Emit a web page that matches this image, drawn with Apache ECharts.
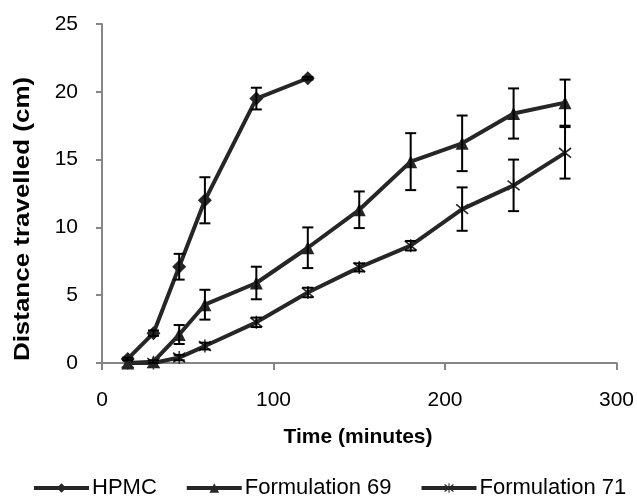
<!DOCTYPE html>
<html>
<head>
<meta charset="utf-8">
<script src="https://cdn.jsdelivr.net/npm/echarts@6/dist/echarts.min.js"></script>
<style>
  html, body { margin: 0; padding: 0; background: #fff; }
  #chart { width: 637px; height: 497px; }
</style>
</head>
<body>
<div id="chart"></div>
<script>
// Sampling times (minutes)
const times = [15, 30, 45, 60, 90, 120, 150, 180, 210, 240, 270];

// Mean distance travelled (cm) and standard deviation per formulation
const hpmcMean = [0.3, 2.2, 7.1, 12.0, 19.5, 21.0];
const hpmcErr  = [0.1, 0.2, 0.95, 1.7, 0.8, 0.1];

const f69Mean = [0, 0.1, 2.1, 4.3, 5.9, 8.5, 11.3, 14.85, 16.2, 18.4, 19.2];
const f69Err  = [0, 0.1, 0.7, 1.1, 1.2, 1.5, 1.35, 2.1, 2.05, 1.85, 1.7];

const f71Mean = [0, 0, 0.4, 1.25, 3.0, 5.2, 7.05, 8.65, 11.35, 13.1, 15.5];
const f71Err  = [0, 0, 0.2, 0.25, 0.35, 0.35, 0.3, 0.35, 1.6, 1.9, 1.9];

const seriesNames = ['HPMC', 'Formulation 69', 'Formulation 71'];

// Axis settings
const xMin = 0, xMax = 300, xStep = 100;
const yMin = 0, yMax = 25, yStep = 5;

const FONT = '"Liberation Sans", Arial, sans-serif';
const LINE_COLOR = '#262626';
const AXIS_COLOR = '#868686';

// six-armed asterisk marker built from three bars
const asterisk = 'path://M9 0H11V20H9Z M0.8 3.6L2.2 1.6L19.2 16.4L17.8 18.4Z M17.8 1.6L19.2 3.6L2.2 18.4L0.8 16.4Z';

function pairs(means) {
  return means.map((v, i) => [times[i], v]);
}
function bars(means, errs) {
  return means.map((v, i) => [times[i], v - errs[i], v + errs[i]]);
}

function errorSeries(means, errs) {
  return {
    type: 'custom',
    silent: true,
    z: 5,
    data: bars(means, errs),
    encode: { x: 0, y: [1, 2] },
    renderItem: function (params, api) {
      const x = api.value(0);
      const lo = api.coord([x, api.value(1)]);
      const hi = api.coord([x, api.value(2)]);
      if (Math.abs(hi[1] - lo[1]) < 0.5) return null;
      const half = 5.5;
      const style = { stroke: '#000', lineWidth: 2 };
      return {
        type: 'group',
        children: [
          { type: 'line', shape: { x1: lo[0], y1: lo[1], x2: hi[0], y2: hi[1] }, style: style },
          { type: 'line', shape: { x1: lo[0] - half, y1: lo[1], x2: lo[0] + half, y2: lo[1] }, style: style },
          { type: 'line', shape: { x1: hi[0] - half, y1: hi[1], x2: hi[0] + half, y2: hi[1] }, style: style }
        ]
      };
    }
  };
}

function lineSeries(name, means, symbol, size) {
  return {
    name: name,
    type: 'line',
    data: pairs(means),
    symbol: symbol,
    symbolSize: size,
    showAllSymbol: true,
    z: 3,
    lineStyle: { color: LINE_COLOR, width: 4 },
    itemStyle: { color: LINE_COLOR, borderWidth: 0 },
    emphasis: { disabled: true }
  };
}

const chart = echarts.init(document.getElementById('chart'), null, { renderer: 'canvas' });

chart.setOption({
  animation: false,
  backgroundColor: '#fff',
  textStyle: { fontFamily: FONT },
  grid: { left: 102, right: 19, top: 24, bottom: 134, containLabel: false },
  xAxis: {
    type: 'value',
    min: xMin, max: xMax, interval: xStep,
    axisLine: { show: true, onZero: false, lineStyle: { color: AXIS_COLOR, width: 2 } },
    axisTick: { show: true, inside: false, length: 7, lineStyle: { color: AXIS_COLOR, width: 2 } },
    splitLine: { show: false },
    axisLabel: { color: '#000', fontSize: 21, fontFamily: FONT, margin: 27 }
  },
  yAxis: {
    type: 'value',
    min: yMin, max: yMax, interval: yStep,
    axisLine: { show: true, lineStyle: { color: AXIS_COLOR, width: 2 } },
    axisTick: { show: true, inside: false, length: 6, lineStyle: { color: AXIS_COLOR, width: 2 } },
    splitLine: { show: false },
    axisLabel: { color: '#000', fontSize: 21, fontFamily: FONT, margin: 24 }
  },
  legend: {
    left: 32,
    top: 477,
    padding: 0,
    itemWidth: 55,
    itemHeight: 12,
    itemGap: 28,
    lineStyle: { width: 4 },
    textStyle: { color: '#000', fontSize: 22, fontFamily: FONT, padding: [0, 0, 0, -2] },
    data: seriesNames
  },
  graphic: [
    {
      type: 'text',
      x: 23, y: 219,
      rotation: Math.PI / 2,
      scaleX: 1.18,
      style: {
        text: 'Distance travelled (cm)',
        font: 'bold 22px ' + FONT,
        fill: '#000',
        align: 'center',
        verticalAlign: 'middle'
      }
    },
    {
      type: 'text',
      x: 358, y: 437,
      style: {
        text: 'Time (minutes)',
        font: 'bold 21px ' + FONT,
        fill: '#000',
        align: 'center',
        verticalAlign: 'middle'
      }
    }
  ],
  series: [
    lineSeries(seriesNames[0], hpmcMean, 'diamond', 14),
    lineSeries(seriesNames[1], f69Mean, 'triangle', 13),
    lineSeries(seriesNames[2], f71Mean, asterisk, 13),
    errorSeries(hpmcMean, hpmcErr),
    errorSeries(f69Mean, f69Err),
    errorSeries(f71Mean, f71Err)
  ]
});
</script>
</body>
</html>
